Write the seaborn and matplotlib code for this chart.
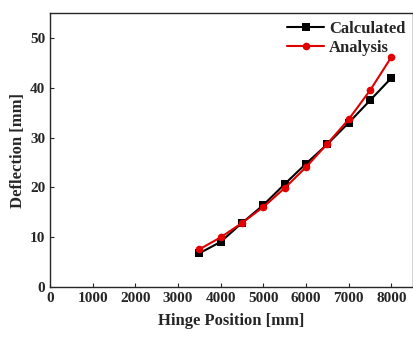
import matplotlib
matplotlib.use("Agg")
import matplotlib.pyplot as plt
import seaborn as sns
import pandas as pd

# 데이터
hinge_position = [3500, 4000, 4500, 5000, 5500, 6000, 6500, 7000, 7500, 8000]
calculated = [6.8, 9.1, 12.9, 16.5, 20.7, 24.8, 28.7, 33.0, 37.5, 42.0]
analysis = [7.6, 10.0, 12.9, 16.1, 19.9, 24.1, 28.8, 33.7, 39.5, 46.2]

df = pd.DataFrame({
    'Hinge Position': hinge_position * 2,
    'Deflection': calculated + analysis,
    'Series': ['Calculated'] * len(hinge_position) + ['Analysis'] * len(hinge_position),
})

sns.set_style('ticks')
plt.rcParams['font.family'] = ['Liberation Serif', 'DejaVu Serif']
plt.rcParams['font.weight'] = 'bold'

fig = plt.figure(figsize=(4.14, 3.37), dpi=100)
ax = fig.add_axes([0.121, 0.148, 0.876, 0.813])

sns.lineplot(data=df, x='Hinge Position', y='Deflection', hue='Series', style='Series',
             palette={'Calculated': 'black', 'Analysis': '#e00000'},
             markers={'Calculated': 's', 'Analysis': 'o'}, dashes=False,
             markersize=5.5, linewidth=1.5, markeredgewidth=0, ax=ax)

ax.set_xlim(0, 8500)
ax.set_ylim(0, 55)
ax.set_xticks(range(0, 9000, 1000))
ax.set_yticks(range(0, 60, 10))
ax.tick_params(direction='in', length=3, labelsize=11)
for lbl in ax.get_xticklabels() + ax.get_yticklabels():
    lbl.set_fontweight('bold')
for s in ax.spines.values():
    s.set_visible(True)
    s.set_linewidth(1.0)
ax.set_xlabel('Hinge Position [mm]', fontsize=12, fontweight='bold', labelpad=6)
ax.set_ylabel('Deflection [mm]', fontsize=12, fontweight='bold', labelpad=3)

leg = ax.legend(title=None, loc='upper right', frameon=False, fontsize=12,
                handlelength=2.2, borderaxespad=0.05, handletextpad=0.3, labelspacing=0.2)
for t in leg.get_texts():
    t.set_fontweight('bold')

fig.savefig('out.png', dpi=100)
